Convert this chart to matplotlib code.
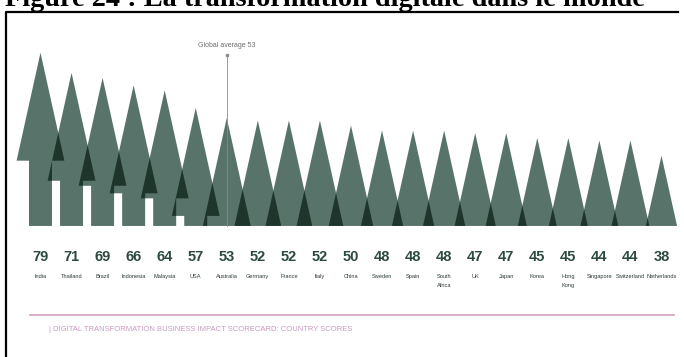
import matplotlib.pyplot as plt
from matplotlib.patches import Polygon
from matplotlib.lines import Line2D

COUNTRIES = ['India', 'Thailand', 'Brazil', 'Indonesia', 'Malaysia', 'USA', 'Australia',
             'Germany', 'France', 'Italy', 'China', 'Sweden', 'Spain', 'South\nAfrica',
             'UK', 'Japan', 'Korea', 'Hong\nKong', 'Singapore', 'Switzerland', 'Netherlands']
SCORES = [79, 71, 69, 66, 64, 57, 53, 52, 52, 52, 50, 48, 48, 48, 47, 47, 45, 45, 44, 44, 38]
GLOBAL_AVG = 53

LIGHT = '#587369'
DARK = '#1e352b'
BASE = 10      # trunk foot, in score units
H = 43         # crown height
W = 0.77       # crown half width (in slots)
T = 0.37       # trunk half width
SANS = 'Liberation Sans'


def tree(x, v):
    top = v - H
    if top >= BASE:
        return [(x, v), (x + W, top), (x + T, top), (x + T, BASE),
                (x - T, BASE), (x - T, top), (x - W, top)]
    w = W * (v - BASE) / H
    return [(x, v), (x + w, BASE), (x - w, BASE)]


fig = plt.figure(figsize=(6.84, 3.57), dpi=100)
ax = fig.add_axes([0, 0, 1, 1])
ax.set_xlim(-1.304, 20.725)
ax.set_ylim(-42.2, 100.0)
ax.axis('off')

patches = []
for i, v in enumerate(SCORES):
    p = Polygon(tree(i, v), closed=True, facecolor=LIGHT, edgecolor='none', zorder=2)
    ax.add_patch(p)
    patches.append(p)

# darker where two trees overlap
for i in range(len(SCORES)):
    for j in range(i + 1, min(i + 3, len(SCORES))):
        d = Polygon(tree(j, SCORES[j]), closed=True, facecolor=DARK, edgecolor='none', zorder=3)
        ax.add_patch(d)
        d.set_clip_path(patches[i])

# global average marker
gx = SCORES.index(GLOBAL_AVG)
ax.plot([gx, gx], [BASE, 78], color='#8a8a8a', lw=0.6, zorder=4)
ax.plot([gx], [78], marker='o', ms=1.6, color='#8a8a8a', zorder=4)
ax.text(gx, 80.5, 'Global average 53', ha='center', va='bottom', fontsize=5,
        color='#6f6f6f', family=SANS)

for i, (name, v) in enumerate(zip(COUNTRIES, SCORES)):
    ax.text(i, -2.3, str(v), ha='center', va='center', fontsize=10.5, fontweight='bold',
            color='#2d4a3f', family=SANS)
    ax.text(i, -9.3, name, ha='center', va='top', fontsize=4.1, color='#2b3a34',
            linespacing=1.8, family=SANS)

ax.plot([-0.34, 20.4], [-25.5, -25.5], color='#d6a8c2', lw=1.3, zorder=1)
ax.text(0.27, -31.3, '| DIGITAL TRANSFORMATION BUSINESS IMPACT SCORECARD: COUNTRY SCORES',
        ha='left', va='center', fontsize=5.5, color='#c99ac0', family=SANS)

# frame and cut-off heading
fig.add_artist(Line2D([6 / 684, 6 / 684, 678 / 684], [0, 1 - 11.5 / 357, 1 - 11.5 / 357],
                      transform=fig.transFigure, color='black', lw=1.6))
fig.text(5 / 684, 1 - 5.5 / 357, 'Figure 24 : La transformation digitale dans le monde',
         ha='left', va='baseline', fontsize=20.3, fontweight='bold',
         family='Liberation Serif', color='black')

fig.savefig('out.png', dpi=100)
